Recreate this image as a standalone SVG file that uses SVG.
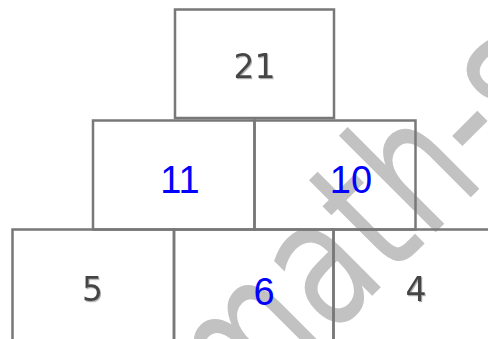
<svg xmlns="http://www.w3.org/2000/svg" width="488" height="339" viewBox="0 0 488 339">
<defs>
<filter id="sh" x="-20%" y="-20%" width="140%" height="140%">
<feDropShadow dx="1" dy="1.2" stdDeviation="0.6" flood-color="#999" flood-opacity="0.8"/>
</filter>
</defs>
<style>
.box{fill:none;stroke:#787878;stroke-width:2.5}
.given{font-family:"DejaVu Sans",sans-serif;font-size:33px;fill:#444;text-anchor:middle;filter:url(#sh)}
.ans{font-family:"Liberation Sans",Arial,sans-serif;font-size:38px;fill:#0000ff;text-anchor:middle}
.wm{font-family:"DejaVu Sans",sans-serif;font-size:180px;fill:#c2c2c2}
</style>
<rect width="488" height="339" fill="#fff"/>
<text class="wm" transform="translate(238,430) rotate(-45) scale(0.75,1)">math-s</text>
<g id="connectors"></g>
<g id="n21"><rect class="box" x="175" y="9.5" width="159" height="108.5"/><text class="given" x="254.5" y="78">21</text></g>
<g id="n11"><rect class="box" x="93" y="120.5" width="161.5" height="109"/><text class="ans" x="180" y="193">11</text></g>
<g id="n10"><rect class="box" x="254.5" y="120.5" width="161" height="109"/><text class="ans" x="351" y="193">10</text></g>
<g id="n5"><rect class="box" x="12.5" y="229.5" width="161.5" height="120"/><text class="given" x="92.5" y="301">5</text></g>
<g id="n6"><rect class="box" x="174" y="229.5" width="159.5" height="120"/><text class="ans" x="264" y="305">6</text></g>
<g id="n4"><rect class="box" x="333.5" y="229.5" width="170" height="120"/><text class="given" x="416" y="301">4</text></g>
</svg>
